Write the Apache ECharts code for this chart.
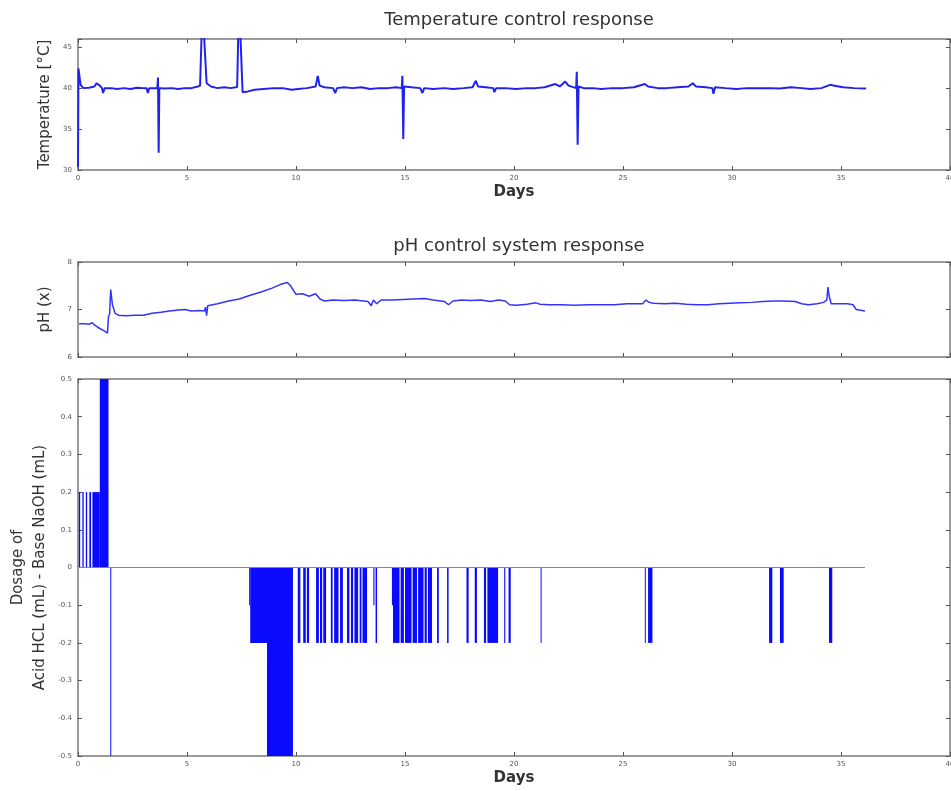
<!DOCTYPE html>
<html><head><meta charset="utf-8">
<script src="https://cdn.jsdelivr.net/npm/echarts@6/dist/echarts.min.js"></script>
<style>html,body{margin:0;padding:0;background:#fff}#chart{width:951px;height:791px}</style>
</head><body><div id="chart"></div>
<script>
// ---------- texts ----------
const titles = ['Temperature control response', 'pH control system response'];
const xLabel = 'Days';
const yLabels = ['Temperature [°C]', 'pH (x)', 'Dosage of\nAcid HCL (mL) - Base NaOH (mL)'];

// ---------- ticks ----------
const dayTicks = [0, 5, 10, 15, 20, 25, 30, 35, 40];
const tempTicks = [30, 35, 40, 45];
const tempMax = 46;
const phTicks = [6, 7, 8];
const doseTicks = [-0.5, -0.4, -0.3, -0.2, -0.1, 0, 0.1, 0.2, 0.3, 0.4, 0.5];

// ---------- temperature [day, °C] ----------
const temperature = [
  [0,30.4],[0.02,42.4],[0.12,40.4],[0.25,40.0],[0.5,40.05],[0.75,40.2],[0.85,40.6],[1.0,40.3],[1.1,40.0],
  [1.15,39.4],[1.22,40.0],[1.5,40.0],[1.8,39.9],[2.1,40.0],[2.4,39.9],[2.7,40.05],[3.0,40.0],[3.15,40.0],
  [3.2,39.4],[3.27,40.0],[3.5,40.0],[3.64,40.0],[3.67,41.3],[3.7,32.1],[3.73,40.0],[4.0,39.95],[4.3,40.0],
  [4.6,39.9],[4.9,40.0],[5.2,40.0],[5.5,40.2],[5.6,40.3],[5.68,47.5],[5.78,46.5],[5.9,40.6],[6.1,40.2],
  [6.4,40.0],[6.7,40.1],[7.0,40.0],[7.3,40.15],[7.36,47.5],[7.45,46.5],[7.55,39.5],[7.8,39.6],[8.1,39.8],
  [8.5,39.9],[9.0,40.0],[9.4,40.0],[9.8,39.8],[10.1,39.9],[10.5,40.0],[10.9,40.2],[11.0,41.5],[11.08,40.3],
  [11.3,40.1],[11.7,40.0],[11.8,39.4],[11.88,40.0],[12.2,40.1],[12.6,40.0],[13.0,40.1],[13.4,39.9],[13.8,40.0],
  [14.2,40.0],[14.6,40.1],[14.85,40.0],[14.88,41.5],[14.92,33.8],[14.96,40.2],[15.3,40.1],[15.7,40.0],
  [15.8,39.4],[15.88,40.0],[16.3,39.9],[16.8,40.0],[17.2,39.9],[17.7,40.0],[18.1,40.1],[18.25,40.9],
  [18.35,40.2],[18.7,40.1],[19.05,40.0],[19.1,39.5],[19.18,40.0],[19.6,40.0],[20.1,39.9],[20.6,40.0],
  [21.0,40.0],[21.4,40.1],[21.9,40.5],[22.1,40.2],[22.35,40.8],[22.5,40.3],[22.85,40.0],[22.88,42.0],
  [22.92,33.1],[22.96,40.2],[23.2,40.0],[23.6,40.0],[24.0,39.9],[24.5,40.0],[25.0,40.0],[25.5,40.1],
  [26.0,40.5],[26.15,40.2],[26.6,40.0],[27.0,40.0],[27.5,40.1],[28.0,40.2],[28.2,40.6],[28.35,40.2],
  [28.8,40.1],[29.1,40.0],[29.15,39.3],[29.22,40.1],[29.7,40.0],[30.2,39.9],[30.7,40.0],[31.2,40.0],
  [31.7,40.0],[32.2,39.95],[32.7,40.1],[33.2,40.0],[33.6,39.9],[34.1,40.0],[34.5,40.4],[34.7,40.3],
  [35.1,40.1],[35.6,40.0],[36.15,39.95]
];

// ---------- pH [day, pH] ----------
const ph = [
  [0.05,6.70],[0.3,6.70],[0.5,6.69],[0.65,6.72],[0.8,6.66],[1.0,6.60],[1.2,6.55],[1.35,6.50],[1.4,6.85],
  [1.45,6.90],[1.5,7.42],[1.58,7.1],[1.7,6.92],[1.85,6.88],[2.2,6.87],[2.6,6.88],[3.0,6.88],[3.4,6.92],
  [3.8,6.94],[4.2,6.97],[4.6,6.99],[4.9,7.0],[5.2,6.97],[5.6,6.98],[5.8,6.97],[5.85,7.05],[5.9,6.87],
  [5.95,7.08],[6.4,7.12],[6.9,7.18],[7.4,7.22],[7.9,7.3],[8.4,7.37],[8.9,7.45],[9.3,7.53],[9.6,7.57],
  [9.75,7.5],[10.0,7.32],[10.3,7.33],[10.6,7.28],[10.9,7.33],[11.1,7.22],[11.3,7.18],[11.7,7.20],
  [12.2,7.19],[12.7,7.2],[13.3,7.17],[13.45,7.08],[13.55,7.2],[13.7,7.12],[13.9,7.2],[14.4,7.2],
  [14.9,7.21],[15.4,7.22],[15.9,7.23],[16.3,7.2],[16.8,7.17],[17.0,7.1],[17.2,7.18],[17.6,7.2],[18.0,7.19],
  [18.5,7.2],[18.9,7.17],[19.3,7.2],[19.6,7.18],[19.8,7.1],[20.1,7.09],[20.6,7.11],[21.0,7.14],[21.2,7.11],
  [21.6,7.1],[22.2,7.1],[22.8,7.09],[23.4,7.1],[24.0,7.1],[24.6,7.1],[25.2,7.12],[25.9,7.12],[26.05,7.2],
  [26.2,7.15],[26.4,7.13],[26.9,7.12],[27.4,7.13],[27.9,7.11],[28.4,7.1],[28.9,7.1],[29.4,7.12],[29.9,7.13],
  [30.4,7.14],[30.9,7.15],[31.4,7.17],[31.9,7.18],[32.4,7.18],[32.9,7.17],[33.2,7.12],[33.5,7.1],
  [33.9,7.12],[34.2,7.15],[34.35,7.2],[34.4,7.47],[34.45,7.3],[34.55,7.12],[34.8,7.12],[35.3,7.12],
  [35.55,7.1],[35.7,7.0],[36.1,6.97]
];

// ---------- dosage events [start day, end day, dose mL] ----------
const doseEvents = [
  [0.04,0.1,0.2],[0.2,0.26,0.2],[0.36,0.42,0.2],[0.52,0.6,0.2],[0.66,1.0,0.2],[1.0,1.4,0.5],
  [1.48,1.52,-0.5],
  [7.85,7.9,-0.1],[7.9,8.67,-0.2],[8.67,9.86,-0.5],
  [10.08,10.2,-0.2],[10.33,10.45,-0.2],[10.5,10.6,-0.2],
  [10.92,11.05,-0.2],[11.1,11.2,-0.2],[11.25,11.38,-0.2],
  [11.6,11.68,-0.2],[11.75,11.95,-0.2],[12.02,12.15,-0.2],
  [12.34,12.45,-0.2],[12.52,12.62,-0.2],[12.68,12.85,-0.2],[12.92,13.0,-0.2],[13.05,13.26,-0.2],
  [13.55,13.6,-0.1],[13.65,13.72,-0.2],
  [14.4,14.45,-0.1],[14.45,14.75,-0.2],[14.8,14.95,-0.2],[15.0,15.3,-0.2],[15.35,15.55,-0.2],
  [15.6,15.85,-0.2],[15.9,16.0,-0.2],[16.05,16.24,-0.2],
  [16.47,16.55,-0.2],[16.93,17.0,-0.2],[17.82,17.92,-0.2],[18.2,18.3,-0.2],
  [18.62,18.72,-0.2],[18.78,19.27,-0.2],[19.55,19.6,-0.2],[19.75,19.85,-0.2],
  [21.22,21.26,-0.2],
  [26.0,26.04,-0.2],[26.15,26.35,-0.2],
  [31.7,31.85,-0.2],[32.2,32.37,-0.2],[34.45,34.6,-0.2]
];
const doseBaseline = [[0,0],[36.1,0]];

// ---------- chart ----------
const FONT = 'DejaVu Sans';
const frame = { show: true, onZero: false, lineStyle: { color: '#9a9a9a', width: 2 } };
const tick = { show: true, inside: true, length: 4, lineStyle: { color: '#555', width: 1 } };
const tickLabel = { fontFamily: FONT, fontSize: 7, color: '#555' };
const grids = [
  { left: 78, right: 1, top: 39, height: 131, outerBoundsMode: 'none', containLabel: false },
  { left: 78, right: 1, top: 262, height: 95, outerBoundsMode: 'none', containLabel: false },
  { left: 78, right: 1, top: 379, height: 377, outerBoundsMode: 'none', containLabel: false }
];
const xAxes = [], yAxes = [];
function addX(g, labels, name) {
  const base = { type: 'value', gridIndex: g, min: dayTicks[0], max: dayTicks[dayTicks.length-1],
    interval: dayTicks[1]-dayTicks[0], splitLine: { show: false }, axisLine: frame, axisTick: tick };
  xAxes.push(Object.assign({}, base, { position: 'bottom',
    axisLabel: labels ? Object.assign({ show: true, margin: 5 }, tickLabel) : { show: false },
    name: name || '', nameLocation: 'middle', nameGap: 15, nameMoveOverlap: false,
    nameTextStyle: { fontFamily: FONT, fontSize: 15, color: '#333', fontWeight: 'bold' } }));
  xAxes.push(Object.assign({}, base, { position: 'top', axisLabel: { show: false } }));
}
function addY(g, ticks, max, name, gap, fmt) {
  const base = { type: 'value', gridIndex: g, min: ticks[0], max: max,
    interval: ticks[1]-ticks[0], splitLine: { show: false }, axisLine: frame, axisTick: tick };
  yAxes.push(Object.assign({}, base, { position: 'left',
    axisLabel: Object.assign({ show: true, margin: 6, formatter: fmt }, tickLabel),
    name: name, nameLocation: 'middle', nameGap: gap, nameRotate: 90, nameMoveOverlap: false,
    nameTextStyle: { fontFamily: FONT, fontSize: 15, color: '#333', lineHeight: 22 } }));
  yAxes.push(Object.assign({}, base, { position: 'right', axisLabel: { show: false } }));
}
addX(0, true, xLabel);
addX(1, false, '');
addX(2, true, xLabel);
addY(0, tempTicks, tempMax, yLabels[0], 22, v => tempTicks.includes(v) ? String(v) : '');
addY(1, phTicks, phTicks[phTicks.length-1], yLabels[1], 22, v => String(v));
addY(2, doseTicks, doseTicks[doseTicks.length-1], yLabels[2], 27,
  v => Math.abs(v) < 1e-9 ? '0' : v.toFixed(1));

const chart = echarts.init(document.getElementById('chart'), null, { renderer: 'canvas' });
chart.setOption({
  animation: false,
  backgroundColor: '#fff',
  title: [
    { text: titles[0], left: 514, top: 6, textAlign: 'center',
      textStyle: { fontFamily: FONT, fontSize: 18, fontWeight: 'normal', color: '#333' } },
    { text: titles[1], left: 514, top: 232, textAlign: 'center',
      textStyle: { fontFamily: FONT, fontSize: 18, fontWeight: 'normal', color: '#333' } }
  ],
  grid: grids,
  xAxis: xAxes,
  yAxis: yAxes,
  series: [
    { type: 'line', xAxisIndex: 0, yAxisIndex: 0, data: temperature, showSymbol: false, clip: true,
      lineStyle: { color: '#2222ee', width: 2 } },
    { type: 'line', xAxisIndex: 2, yAxisIndex: 2, data: ph, showSymbol: false, clip: true,
      lineStyle: { color: '#3333ff', width: 1.5 } },
    { type: 'line', xAxisIndex: 4, yAxisIndex: 4, data: doseBaseline, showSymbol: false,
      lineStyle: { color: '#7878ff', width: 1.2 } },
    { type: 'custom', xAxisIndex: 4, yAxisIndex: 4, data: doseEvents,
      encode: { x: [0, 1], y: 2 },
      renderItem: function (params, api) {
        const a = api.coord([api.value(0), 0]);
        const b = api.coord([api.value(1), api.value(2)]);
        return { type: 'rect',
          shape: { x: a[0], y: Math.min(a[1], b[1]), width: Math.max(b[0] - a[0], 1), height: Math.abs(b[1] - a[1]) },
          style: { fill: '#0a0aff' } };
      } }
  ]
});
</script></body></html>
